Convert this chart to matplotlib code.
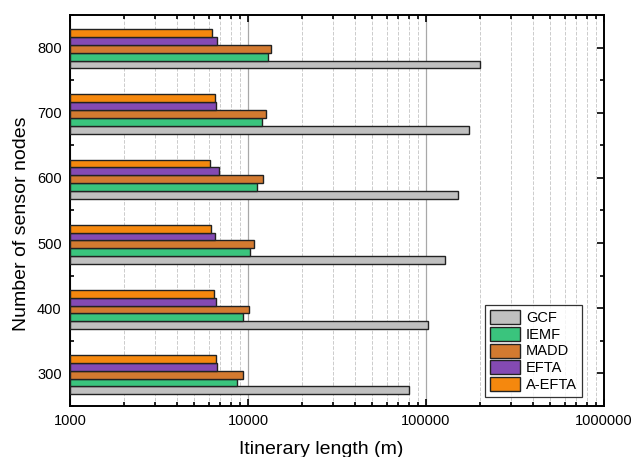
import numpy as np
import matplotlib

matplotlib.use("Agg")
import matplotlib.pyplot as plt
from matplotlib.ticker import FixedLocator, LogLocator, NullFormatter

plt.rcParams["font.family"] = ["Liberation Sans", "DejaVu Sans"]

nodes = [300, 400, 500, 600, 700, 800]
series = ["GCF", "IEMF", "MADD", "EFTA", "A-EFTA"]
gcf = [80000, 103000, 128000, 152000, 174500, 201000]
iemf = [8640, 9370, 10300, 11190, 12030, 12900]
madd = [9370, 10170, 10850, 12140, 12670, 13500]
efta = [6680, 6640, 6550, 6840, 6600, 6720]
a_efta = [6640, 6420, 6200, 6140, 6550, 6250]
colors = ["#c0c0c0", "#3ac47d", "#d37a30", "#844ab3", "#f5880e"]

values = [gcf, iemf, madd, efta, a_efta]

fig = plt.figure(figsize=(6.32, 4.57), dpi=100)
ax = fig.add_axes([0.1108, 0.1116, 0.845, 0.8556])

h = 12
y = np.array(nodes, dtype=float)
# GCF lowest, A-EFTA on top
for i, (name, vals, c) in enumerate(zip(series, values, colors)):
    off = (i - 2) * h - 2
    ax.barh(y + off, np.array(vals) - 1000, left=1000, height=h,
            color=c, edgecolor="#222222", linewidth=1.0, label=name, zorder=3)

ax.set_xscale("log")
ax.set_xlim(1000, 1000000)
ax.set_ylim(250, 850)
ax.set_xticks([1000, 10000, 100000, 1000000])
ax.set_xticklabels(["1000", "10000", "100000", "1000000"])
ax.xaxis.set_minor_locator(LogLocator(base=10, subs=np.arange(2, 10)))
ax.xaxis.set_minor_formatter(NullFormatter())
ax.set_yticks(nodes)
ax.yaxis.set_minor_locator(FixedLocator([250, 350, 450, 550, 650, 750, 850]))

ax.grid(True, which="major", axis="x", color="#a8a8a8", linewidth=0.9, zorder=0)
ax.grid(True, which="minor", axis="x", color="#cccccc", linestyle="--",
        linewidth=0.7, zorder=0)
ax.set_axisbelow(True)

ax.tick_params(which="both", direction="in", top=True, right=True,
               labelsize=10.5, width=1.2)
ax.tick_params(which="major", length=5, pad=6)
ax.tick_params(which="minor", length=3)
for s in ax.spines.values():
    s.set_linewidth(1.4)

ax.set_xlabel("Itinerary length (m)", fontsize=14, labelpad=9)
ax.set_ylabel("Number of sensor nodes", fontsize=14, labelpad=5)
ax.xaxis.label.set_x(0.47)
ax.yaxis.label.set_y(0.465)

leg = ax.legend(loc="lower right", bbox_to_anchor=(0.959, 0.023), fontsize=10.5,
                frameon=True, fancybox=False, edgecolor="black",
                handlelength=2.1, handleheight=1.1, handletextpad=0.4,
                labelspacing=0.12, borderpad=0.35, borderaxespad=0.0)
leg.get_frame().set_linewidth(0.9)

fig.savefig("out.png", dpi=100)
